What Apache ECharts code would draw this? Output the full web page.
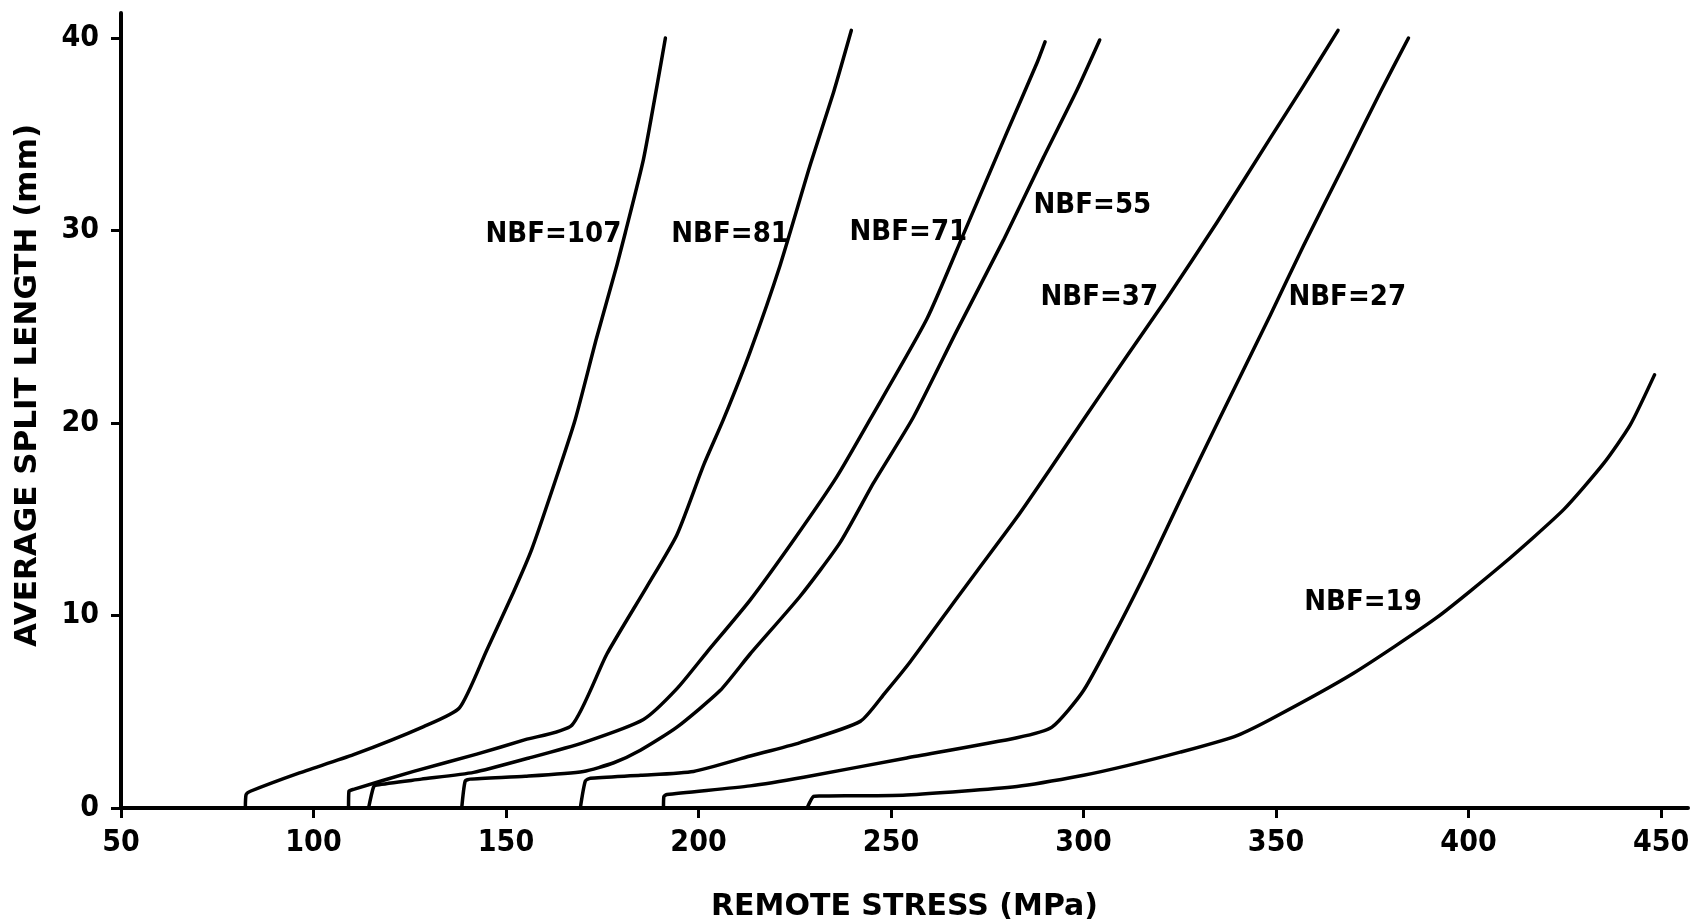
<!DOCTYPE html>
<html><head><meta charset="utf-8">
<script src="https://cdn.jsdelivr.net/npm/echarts@6/dist/echarts.min.js"></script>
<style>html,body{margin:0;padding:0;background:#fff}#c{width:1694px;height:923px}</style>
</head><body><div id="c"></div>
<script>
// Tick labels
const xTicks = [50, 100, 150, 200, 250, 300, 350, 400, 450];
const yTicks = [0, 10, 20, 30, 40];

// Curves: [remote stress (MPa), average split length (mm)]
const nbf107 = [[82.3,0],[82.5,0.7],[83.6,0.87],[96,1.8],[110.4,2.77],[128.6,4.23],[137.9,5.2],[145,8.2],[151.9,11.2],[156.7,13.45],[162.8,17.0],[168,20.2],[173.5,24.4],[178.8,28.2],[181,29.9],[185.7,33.7],[189.2,37.5],[191.4,40.0]];
const nbf81  = [[109.1,0],[109.2,0.87],[110.4,0.97],[126,1.9],[142.4,2.8],[155,3.55],[167.1,4.3],[176.2,8.0],[186.6,11.5],[194.4,14.2],[201.3,17.8],[206.5,20.2],[213.4,23.7],[221.2,28.2],[229,33.4],[235.1,37.2],[239.7,40.4]];
const nbf71  = [[114.3,0],[115.6,1.1],[116.5,1.2],[128,1.5],[141.6,1.85],[156,2.6],[170.1,3.4],[185.7,4.6],[194.4,6.2],[202.2,8.1],[213.4,10.8],[225,14.0],[235.9,17.2],[244.6,20.2],[259.3,25.4],[268.8,29.8],[280.1,35.1],[287.9,38.7],[290.0,39.8]];
const nbf55  = [[138.5,0],[139.4,1.4],[140.7,1.5],[155,1.65],[170.1,1.9],[178,2.35],[184.9,3.0],[194.4,4.2],[205.6,6.1],[213.4,8.0],[226.4,11.0],[236.8,13.8],[245.5,16.9],[255.8,20.3],[267.1,24.8],[279.2,29.5],[289.6,33.8],[298.3,37.3],[304.2,39.9]];
const nbf37  = [[169.3,0],[170.6,1.4],[171.9,1.55],[185,1.7],[198.7,1.9],[213.4,2.7],[226.4,3.4],[242,4.5],[248.5,6.0],[255,7.6],[267.1,10.9],[272.3,12.3],[282.7,15.1],[291.3,17.6],[300.4,20.3],[311,23.4],[321.7,26.5],[334.6,30.4],[348.5,34.8],[357.1,37.5],[366.1,40.4]];
const nbf27  = [[190.9,0],[191,0.6],[191.8,0.7],[213.4,1.15],[227.3,1.6],[254.1,2.6],[282.7,3.65],[291.8,4.2],[300,6.1],[309.5,9.6],[317.3,12.7],[325.1,16.0],[335.5,20.3],[348.5,25.6],[357.1,29.2],[368.4,33.7],[377.1,37.2],[384.4,40.0]];
const nbf19  = [[228.2,0],[229.9,0.6],[231.5,0.62],[254,0.68],[282.7,1.12],[300,1.7],[311.3,2.2],[325.1,2.9],[339,3.7],[348.5,4.6],[370.1,7.0],[391.8,9.9],[409.1,12.7],[424.7,15.5],[435.1,17.9],[442,19.9],[448.3,22.5]];

const curveNames = ['NBF=107','NBF=81','NBF=71','NBF=55','NBF=37','NBF=27','NBF=19'];
const curves = [nbf107, nbf81, nbf71, nbf55, nbf37, nbf27, nbf19];
// Label anchor (centre) in data coordinates
const labelAt = [[162.3,29.8],[208.2,29.8],[254.5,29.9],[302.3,31.3],[304.1,26.5],[368.5,26.5],[372.6,10.7]];

const condFont = "'DejaVu Sans Condensed','DejaVu Sans',sans-serif";
const chart = echarts.init(document.getElementById('c'), null, {renderer:'canvas'});
chart.setOption({
  animation: false,
  backgroundColor: '#fff',
  grid: {left: 121, right: 6, top: 13, bottom: 115, containLabel: false, outerBoundsMode: 'none'},
  xAxis: {
    type: 'value', min: 50, max: 457, interval: 50,
    name: 'REMOTE STRESS (MPa)', nameLocation: 'middle', nameGap: 84,
    nameTextStyle: {color:'#000', fontSize: 30, fontWeight:'bold', fontFamily:"'DejaVu Sans',sans-serif"},
    axisLine: {show:true, onZero:false, lineStyle:{color:'#000', width:4}},
    axisTick: {show:true, length:10, lineStyle:{color:'#000', width:3}, customValues: xTicks},
    axisLabel: {color:'#000', fontSize:30, fontWeight:'bold', fontFamily:condFont, margin:20, customValues: xTicks},
    splitLine: {show:false}
  },
  yAxis: {
    type: 'value', min: 0, max: 41.3, interval: 10,
    name: 'AVERAGE SPLIT LENGTH (mm)', nameLocation: 'middle', nameGap: 78, nameRotate: 90,
    nameTextStyle: {color:'#000', fontSize: 31, fontWeight:'bold', fontFamily:"'DejaVu Sans',sans-serif", padding:[0,0,0,50]},
    axisLine: {show:true, onZero:false, lineStyle:{color:'#000', width:4}},
    axisTick: {show:true, length:10, lineStyle:{color:'#000', width:3}, customValues: yTicks},
    axisLabel: {color:'#000', fontSize:30, fontWeight:'bold', fontFamily:condFont, margin:22, customValues: yTicks},
    splitLine: {show:false}
  },
  series: curves.map((d, i) => ({
    name: curveNames[i], type: 'line', data: d, symbol: 'none', silent: true,
    smooth: 0.2,
    lineStyle: {color:'#000', width:3.5, cap:'round', join:'round'},
    markPoint: {
      symbol: 'circle', symbolSize: 0, silent: true,
      label: {show:true, position:'inside', formatter: curveNames[i], color:'#000', fontSize:29, fontWeight:'bold', fontFamily:condFont},
      data: [{coord: labelAt[i]}]
    }
  }))
});
</script></body></html>
